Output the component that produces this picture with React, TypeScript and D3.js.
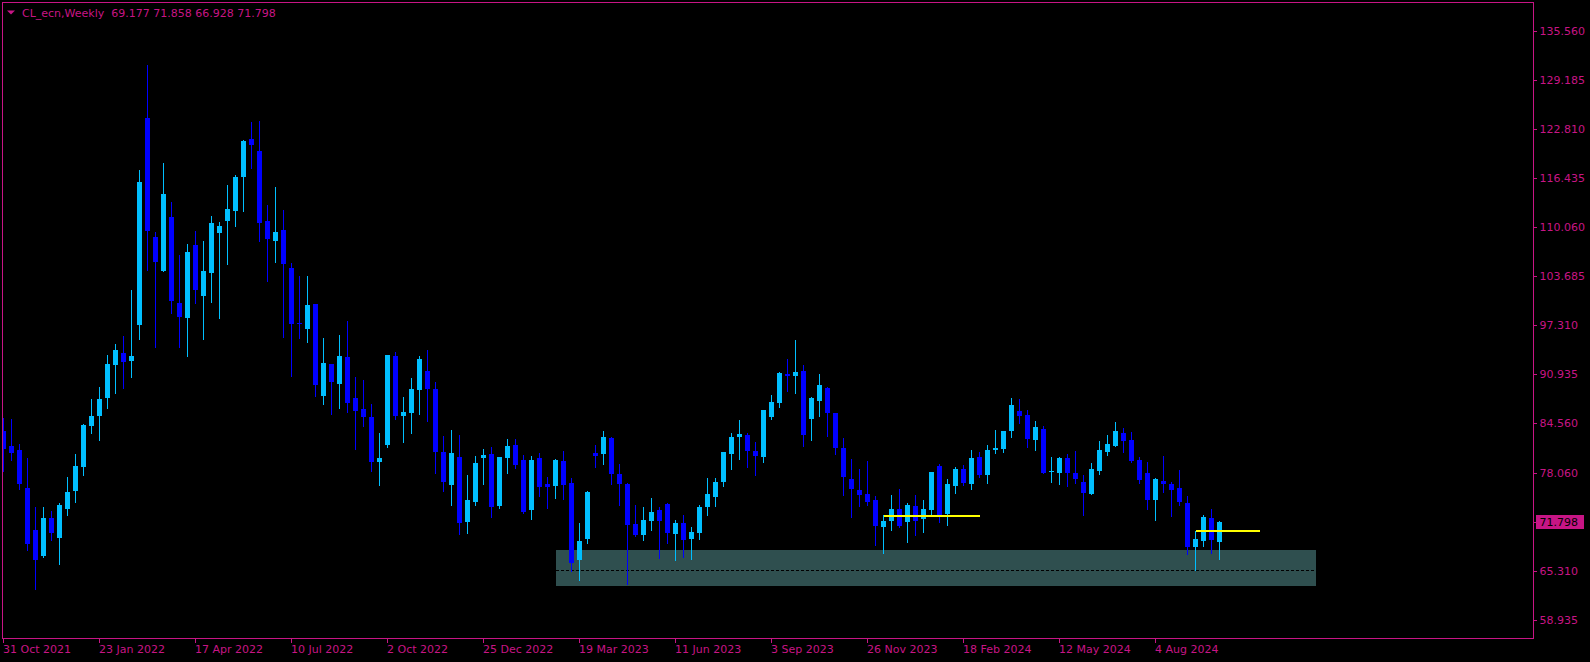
import * as d3 from "d3";
import React, { RefObject, useEffect, useRef } from "react";

const symbolName = "CL_ecn,Weekly";
const firstWeek = Date.UTC(2021, 9, 31);

// weekly OHLC, first bar = week of 31 Oct 2021
const opens = [
  83.61, 81.66, 81.13, 76.19, 70.73, 67.34, 72.29, 69.69, 73.46, 75.8,
  78.92, 84.26, 85.56, 87.9, 92.19, 93.75, 92.71, 97.4, 124.33, 108.85,
  104.42, 111.45, 100.26, 98.31, 107.81, 101.17, 104.16, 109.37, 110.93, 112.23,
  116.65, 121.6, 120.03, 110.93, 108.33, 109.76, 104.81, 97.66, 96.88, 100.13,
  88.16, 92.32, 89.72, 93.23, 87.9, 86.47, 85.43, 79.57, 81.79, 93.36,
  85.56, 85.95, 88.94, 91.41, 89.07, 80.87, 76.58, 80.22, 71.77, 74.37,
  80.09, 80.61, 73.85, 80.09, 81.79, 79.83, 73.33, 80.09, 76.71, 76.45,
  79.7, 76.84, 66.82, 69.56, 80.74, 80.61, 82.7, 78.01, 76.71, 71.51,
  70.08, 71.9, 73.33, 74.11, 70.21, 71.64, 69.56, 70.34, 73.72, 75.02,
  76.97, 80.61, 82.83, 83.09, 81.0, 80.22, 85.43, 87.25, 91.02, 90.76,
  91.41, 85.17, 87.51, 89.2, 85.95, 81.4, 77.36, 75.93, 75.41, 74.63,
  71.12, 71.9, 73.46, 71.77, 73.85, 72.16, 73.33, 79.05, 72.81, 76.45,
  78.66, 76.71, 80.22, 77.88, 81.13, 81.27, 83.61, 86.21, 85.69, 82.44,
  83.87, 78.34, 78.14, 80.09, 78.14, 76.97, 75.41, 78.4, 80.87, 81.66,
  83.35, 82.44, 79.83, 78.14, 74.63, 77.1, 76.71, 76.19, 74.24, 68.52,
  69.3, 72.29, 69.177,
];
const highs = [
  85.26, 85.17, 81.92, 80.09, 73.68, 73.68, 73.16, 74.2, 77.62, 80.61,
  84.52, 87.77, 89.33, 93.49, 94.93, 95.97, 101.95, 117.56, 131.22, 109.5,
  118.47, 113.4, 106.5, 107.94, 109.63, 108.33, 111.58, 110.8, 115.61, 116.91,
  121.47, 123.81, 123.94, 113.01, 115.35, 112.36, 105.46, 103.77, 103.77, 100.13,
  95.71, 92.32, 96.1, 97.92, 90.63, 90.24, 87.12, 83.35, 93.49, 93.88,
  88.03, 90.5, 93.36, 94.14, 89.98, 82.96, 83.74, 83.09, 77.88, 80.35,
  81.27, 81.53, 80.22, 82.57, 82.57, 80.48, 80.35, 80.71, 77.62, 79.96,
  81.0, 77.49, 71.64, 75.8, 81.79, 83.61, 82.83, 79.31, 76.84, 73.98,
  73.72, 74.89, 73.72, 74.24, 72.03, 72.68, 71.12, 73.98, 77.49, 77.49,
  80.87, 83.35, 85.04, 83.35, 82.18, 86.34, 88.29, 91.28, 92.97, 95.45,
  92.19, 88.03, 91.02, 89.33, 85.95, 82.7, 79.96, 78.66, 79.7, 75.15,
  72.68, 75.28, 76.06, 74.24, 75.28, 74.63, 78.27, 79.31, 77.36, 78.92,
  79.18, 81.13, 80.87, 81.79, 83.74, 83.61, 87.9, 87.77, 86.34, 84.91,
  84.26, 80.22, 80.22, 80.61, 81.0, 77.88, 79.44, 82.31, 83.09, 84.78,
  84.0, 83.48, 80.22, 79.57, 77.49, 80.35, 76.97, 78.53, 75.15, 70.6,
  72.68, 73.46, 71.858,
];
const lows = [
  78.4, 79.83, 76.06, 68.12, 62.99, 67.21, 69.43, 66.3, 72.68, 74.37,
  77.88, 83.35, 82.44, 86.6, 88.55, 89.2, 90.63, 95.58, 104.55, 94.54,
  104.42, 98.96, 94.54, 93.36, 100.26, 95.58, 100.39, 98.31, 105.33, 110.28,
  112.23, 117.82, 108.33, 103.12, 105.59, 95.84, 90.76, 95.71, 95.19, 88.16,
  87.12, 85.82, 86.6, 86.08, 81.27, 84.26, 78.4, 76.58, 81.53, 85.17,
  82.18, 83.35, 85.82, 84.91, 78.14, 75.8, 73.98, 70.21, 70.34, 73.98,
  76.71, 72.42, 73.59, 78.14, 78.79, 72.94, 72.16, 75.15, 73.59, 74.89,
  74.76, 65.39, 64.22, 69.04, 78.92, 79.31, 76.71, 73.98, 63.7, 69.95,
  69.43, 70.73, 67.08, 69.04, 66.82, 67.21, 66.95, 69.56, 72.68, 73.85,
  76.45, 78.66, 79.96, 78.92, 77.88, 79.57, 85.17, 86.73, 88.81, 88.55,
  81.66, 82.44, 85.56, 82.96, 80.61, 75.28, 72.42, 73.85, 73.98, 68.78,
  67.74, 70.73, 71.12, 69.17, 70.08, 70.47, 72.68, 71.77, 71.38, 75.54,
  76.58, 76.06, 77.62, 76.84, 80.74, 80.87, 82.83, 84.65, 81.53, 81.13,
  78.14, 76.97, 76.71, 76.45, 76.84, 72.68, 75.41, 78.01, 80.48, 81.66,
  80.87, 79.57, 76.84, 73.46, 72.03, 75.67, 72.55, 73.98, 67.6, 65.52,
  68.65, 67.74, 66.928,
];
const closes = [
  81.27, 80.71, 76.71, 68.91, 66.82, 72.29, 70.3, 73.98, 75.67, 79.05,
  84.39, 85.56, 87.77, 92.32, 94.14, 92.58, 93.36, 116.0, 109.63, 105.59,
  114.44, 100.52, 98.44, 106.89, 101.95, 104.42, 110.67, 110.28, 112.49, 116.65,
  121.34, 120.82, 110.67, 108.59, 109.5, 105.33, 97.53, 97.6, 100.0, 89.59,
  92.45, 89.98, 93.36, 87.25, 86.21, 85.43, 79.57, 80.09, 93.49, 85.56,
  86.08, 89.07, 92.97, 89.07, 80.87, 76.97, 80.74, 71.64, 74.63, 79.44,
  80.48, 73.72, 80.22, 81.66, 79.18, 73.07, 79.83, 76.32, 76.32, 79.83,
  76.58, 66.43, 69.3, 75.67, 80.35, 82.83, 78.01, 76.71, 71.38, 70.08,
  72.03, 73.07, 71.9, 70.34, 71.64, 69.43, 70.47, 73.72, 75.41, 76.97,
  80.87, 82.83, 83.22, 81.0, 80.35, 86.34, 87.38, 91.15, 90.76, 91.28,
  83.09, 87.9, 89.59, 85.95, 81.4, 77.62, 76.06, 75.28, 74.37, 71.25,
  71.9, 73.46, 71.25, 73.98, 71.9, 73.46, 78.27, 72.42, 76.71, 78.66,
  76.84, 80.09, 77.88, 81.13, 81.4, 83.61, 86.99, 85.56, 82.57, 84.13,
  78.14, 78.47, 80.09, 78.14, 77.36, 75.54, 78.66, 81.13, 81.92, 83.61,
  82.31, 79.7, 77.23, 74.63, 77.36, 76.71, 75.93, 74.37, 68.52, 69.56,
  72.42, 69.43, 71.798,
];

const dateTickLabels = [
  "31 Oct 2021", "23 Jan 2022", "17 Apr 2022", "10 Jul 2022", "2 Oct 2022",
  "25 Dec 2022", "19 Mar 2023", "11 Jun 2023", "3 Sep 2023", "26 Nov 2023",
  "18 Feb 2024", "12 May 2024", "4 Aug 2024",
];
const priceTicks = [
  135.56, 129.185, 122.81, 116.435, 110.06, 103.685, 97.31, 90.935, 84.56,
  78.06, 65.31, 58.935,
];

// demand zone rectangle (week index range and prices)
const zoneWeeks = [69, 164];
const zonePrices = [68.12, 63.48];
const zoneMidPrice = 65.49;
// yellow horizontal levels: [fromWeek, toWeek, price]
const levels: [number, number, number][] = [
  [110, 122, 72.55],
  [149, 157, 70.62],
];

const W = 1590;
const H = 662;
const pink = "#C71585";
const bullColor = "#00BFFF";
const bearColor = "#0000FF";
const font = "'DejaVu Sans', Verdana, sans-serif";

const weekDate = (i: number) => new Date(firstWeek + i * 7 * 864e5);

const App = () => {
  const d3Ref: RefObject<HTMLDivElement> = useRef(null);

  useEffect(() => {
    document.body.style.margin = "0";
    document.body.style.background = "#000";
    document.body.style.overflow = "hidden";

    const root = d3.select(d3Ref.current);
    root.selectAll("*").remove();
    const svg = root
      .append("svg")
      .attr("width", W)
      .attr("height", H)
      .style("display", "block")
      .attr("font-family", font)
      .attr("font-size", 11);

    svg.append("rect").attr("width", W).attr("height", H).attr("fill", "#000");

    const left = 2.5;
    const top = 2.5;
    const right = 1533.5;
    const bottom = 638.5;

    const xScale = d3
      .scaleUtc()
      .domain([weekDate(0), weekDate(1)])
      .range([3.5, 11.5]);
    const yScale = d3.scaleLinear().domain([56.68, 139.29]).range([638, 3]);

    svg
      .append("clipPath")
      .attr("id", "plotClip")
      .append("rect")
      .attr("x", 3)
      .attr("y", 3)
      .attr("width", right - 3.5)
      .attr("height", bottom - 3.5);

    const g = svg
      .append("g")
      .attr("clip-path", "url(#plotClip)")
      .attr("shape-rendering", "crispEdges");

    // zone
    const zx0 = xScale(weekDate(zoneWeeks[0]));
    const zx1 = xScale(weekDate(zoneWeeks[1]));
    g.append("rect")
      .attr("x", zx0)
      .attr("y", yScale(zonePrices[0]))
      .attr("width", zx1 - zx0)
      .attr("height", yScale(zonePrices[1]) - yScale(zonePrices[0]))
      .attr("fill", "#2F4F4F");
    g.append("line")
      .attr("x1", zx0)
      .attr("x2", zx1)
      .attr("y1", Math.round(yScale(zoneMidPrice)) + 0.5)
      .attr("y2", Math.round(yScale(zoneMidPrice)) + 0.5)
      .attr("stroke", "#000")
      .attr("stroke-dasharray", "3,2");

    // candles
    const idx = d3.range(opens.length);
    const candle = g
      .selectAll("g.candle")
      .data(idx)
      .enter()
      .append("g")
      .attr("class", "candle")
      .attr("fill", (i) => (closes[i] >= opens[i] ? bullColor : bearColor));

    candle
      .append("rect")
      .attr("x", (i) => xScale(weekDate(i)) - 0.5)
      .attr("width", 1)
      .attr("y", (i) => Math.round(yScale(highs[i])))
      .attr("height", (i) =>
        Math.max(1, Math.round(yScale(lows[i])) - Math.round(yScale(highs[i])) + 1)
      );

    candle
      .append("rect")
      .attr("x", (i) => xScale(weekDate(i)) - 2.5)
      .attr("width", 5)
      .attr("y", (i) => Math.round(yScale(Math.max(opens[i], closes[i]))))
      .attr("height", (i) =>
        Math.max(
          1,
          Math.round(yScale(Math.min(opens[i], closes[i]))) -
            Math.round(yScale(Math.max(opens[i], closes[i])))
        )
      );

    // yellow levels
    g.selectAll("line.level")
      .data(levels)
      .enter()
      .append("line")
      .attr("class", "level")
      .attr("x1", (d) => xScale(weekDate(d[0])))
      .attr("x2", (d) => xScale(weekDate(d[1])))
      .attr("y1", (d) => Math.round(yScale(d[2])))
      .attr("y2", (d) => Math.round(yScale(d[2])))
      .attr("stroke", "#FFFF00")
      .attr("stroke-width", 2);

    // frame
    svg
      .append("rect")
      .attr("x", left)
      .attr("y", top)
      .attr("width", right - left)
      .attr("height", bottom - top)
      .attr("fill", "none")
      .attr("stroke", pink)
      .attr("shape-rendering", "crispEdges");

    // price axis
    const yAxis = svg
      .append("g")
      .attr("transform", `translate(${right}, 0)`)
      .attr("shape-rendering", "crispEdges")
      .call(
        d3
          .axisRight(yScale)
          .tickValues(priceTicks)
          .tickSize(3)
          .tickPadding(3)
          .offset(0)
          .tickFormat((d) => d3.format(".3f")(d as number))
      );
    yAxis.select(".domain").remove();
    yAxis.selectAll("line").attr("stroke", pink);
    yAxis
      .selectAll("text")
      .attr("fill", pink)
      .attr("font-family", font)
      .attr("font-size", 11);

    // date axis
    const parse = d3.utcParse("%d %b %Y");
    const xAxis = svg
      .append("g")
      .attr("transform", `translate(0, ${bottom})`)
      .attr("shape-rendering", "crispEdges")
      .call(
        d3
          .axisBottom(xScale)
          .tickValues(dateTickLabels.map((s) => parse(s) as Date))
          .tickSize(4)
          .tickPadding(3)
          .offset(0)
          .tickFormat((d) => d3.utcFormat("%-d %b %Y")(d as Date))
      );
    xAxis.select(".domain").remove();
    xAxis.selectAll("line").attr("stroke", pink);
    xAxis
      .selectAll("text")
      .attr("fill", pink)
      .attr("text-anchor", "start")
      .attr("x", -0.5)
      .attr("font-family", font)
      .attr("font-size", 11);

    // current price label
    const last = opens.length - 1;
    const yLast = yScale(closes[last]);
    svg
      .append("line")
      .attr("x1", right)
      .attr("x2", right + 3)
      .attr("y1", Math.round(yLast) + 0.5)
      .attr("y2", Math.round(yLast) + 0.5)
      .attr("stroke", pink);
    svg
      .append("rect")
      .attr("x", right + 2)
      .attr("y", Math.round(yLast) - 7)
      .attr("width", 48)
      .attr("height", 14)
      .attr("fill", pink)
      .attr("shape-rendering", "crispEdges");
    svg
      .append("text")
      .attr("x", right + 6)
      .attr("y", yLast + 4)
      .attr("fill", "#000")
      .text(d3.format(".3f")(closes[last]));

    // header
    svg
      .append("path")
      .attr("d", "M7,10.5 L15,10.5 L11,14.5 Z")
      .attr("fill", pink);
    svg
      .append("text")
      .attr("x", 22)
      .attr("y", 16.5)
      .attr("fill", pink)
      .style("white-space", "pre")
      .text(
        `${symbolName}  ${[opens[last], highs[last], lows[last], closes[last]]
          .map((v) => d3.format(".3f")(v))
          .join(" ")}`
      );
  }, [d3Ref]);

  return <div ref={d3Ref} />;
};

export default App;
